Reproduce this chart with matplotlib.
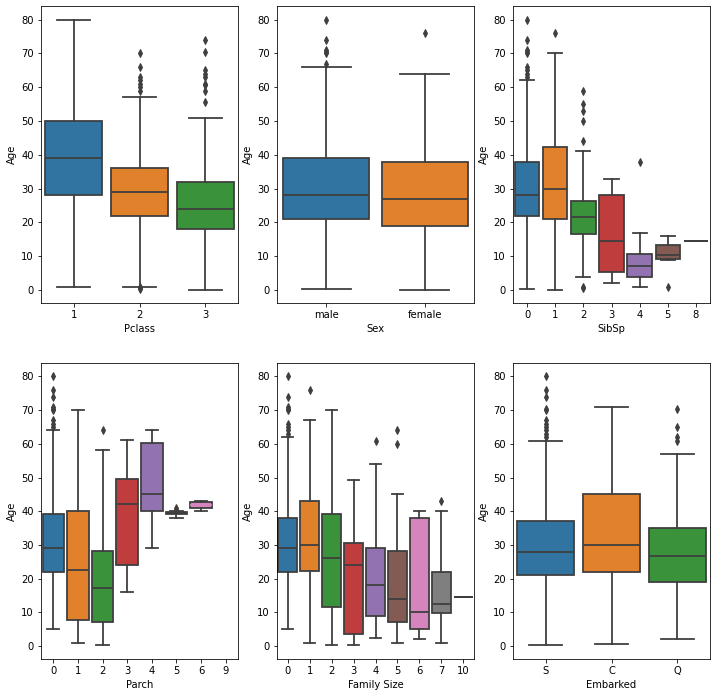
import matplotlib
matplotlib.use("Agg")
import matplotlib.pyplot as plt

# ---------------- data ----------------
pclass_cats = ['1', '2', '3']
pclass_q1 = [28.0, 22.0, 18.0]
pclass_med = [39.0, 29.0, 24.0]
pclass_q3 = [50.0, 36.0, 32.0]
pclass_lo = [0.92, 1.0, 0.17]
pclass_hi = [80.0, 57.0, 51.0]
pclass_fliers = [[],
                 [0.42, 0.67, 0.83, 59, 60, 61, 62, 63, 66, 70],
                 [55.5, 59, 60.5, 61, 63, 64, 65, 70.5, 74]]

sex_cats = ['male', 'female']
sex_q1 = [21.0, 19.0]
sex_med = [28.0, 27.0]
sex_q3 = [39.0, 38.0]
sex_lo = [0.33, 0.17]
sex_hi = [66.0, 64.0]
sex_fliers = [[67, 70, 70.5, 71, 74, 80], [76]]

sibsp_cats = ['0', '1', '2', '3', '4', '5', '8']
sibsp_q1 = [22.0, 21.0, 16.5, 5.4, 4.0, 9.2, 14.5]
sibsp_med = [28.0, 30.0, 21.6, 14.6, 7.2, 10.4, 14.5]
sibsp_q3 = [38.0, 42.2, 26.4, 28.2, 10.7, 13.3, 14.5]
sibsp_lo = [0.33, 0.17, 4.0, 2.0, 1.0, 9.0, 14.5]
sibsp_hi = [62.0, 70.0, 41.0, 33.0, 17.0, 16.0, 14.5]
sibsp_fliers = [[63, 64, 65, 66, 70, 70.5, 71, 74, 80], [76],
                [0.67, 1.0, 44, 50, 53, 55, 59], [], [38], [1.0], []]

parch_cats = ['0', '1', '2', '3', '4', '5', '6', '9']
parch_q1 = [22.0, 7.9, 7.2, 24.1, 40.0, 39.1, 41.0]
parch_med = [29.1, 22.7, 17.4, 42.3, 45.2, 39.4, 42.0]
parch_q3 = [39.3, 40.1, 28.2, 49.6, 60.2, 39.8, 42.8]
parch_lo = [5.0, 0.8, 0.5, 16.2, 29.2, 38.0, 40.0]
parch_hi = [64.0, 70.0, 58.3, 61.2, 64.0, 40.0, 43.0]
parch_fliers = [[65, 66, 67, 70, 70.5, 71, 74, 76, 80], [], [64], [], [],
                [40.5, 41], []]

fam_cats = ['0', '1', '2', '3', '4', '5', '6', '7', '10']
fam_q1 = [22.0, 22.4, 11.5, 3.7, 9.0, 7.1, 5.1, 9.8, 14.5]
fam_med = [29.1, 30.1, 26.2, 24.1, 18.2, 14.1, 10.2, 12.5, 14.5]
fam_q3 = [38.0, 43.0, 39.2, 30.7, 29.1, 28.2, 38.0, 22.1, 14.5]
fam_lo = [5.0, 0.8, 0.5, 0.5, 2.3, 1.0, 2.2, 1.0, 14.5]
fam_hi = [62.0, 67.0, 70.0, 49.4, 54.0, 45.0, 40.0, 40.0, 14.5]
fam_fliers = [[63, 64, 65, 66, 70, 70.5, 71, 74, 80], [76], [], [], [61],
              [60, 64], [], [43], []]

emb_cats = ['S', 'C', 'Q']
emb_q1 = [21.0, 22.0, 19.0]
emb_med = [28.0, 30.0, 26.8]
emb_q3 = [37.0, 45.0, 35.0]
emb_lo = [0.42, 0.75, 2.0]
emb_hi = [61.0, 71.0, 57.0]
emb_fliers = [[62, 63, 64, 65, 66, 67, 70, 70.5, 74, 76, 80], [],
              [61, 62, 65, 70.5]]

# ---------------- styling ----------------
palette = ['#3274a1', '#e1812c', '#3a923a', '#c03d3e', '#9372b2',
           '#845b53', '#d684bd', '#7f7f7f', '#a9aa35', '#2e9ebe']
gray = '#3f3f3f'
LW = 1.8

W, H = 717, 697
fig = plt.figure(figsize=(W / 72, H / 72), dpi=72)

panels = [
    (pclass_cats, pclass_q1, pclass_med, pclass_q3, pclass_lo, pclass_hi, pclass_fliers, 'Pclass'),
    (sex_cats, sex_q1, sex_med, sex_q3, sex_lo, sex_hi, sex_fliers, 'Sex'),
    (sibsp_cats, sibsp_q1, sibsp_med, sibsp_q3, sibsp_lo, sibsp_hi, sibsp_fliers, 'SibSp'),
    (parch_cats, parch_q1, parch_med, parch_q3, parch_lo, parch_hi, parch_fliers, 'Parch'),
    (fam_cats, fam_q1, fam_med, fam_q3, fam_lo, fam_hi, fam_fliers, 'Family Size'),
    (emb_cats, emb_q1, emb_med, emb_q3, emb_lo, emb_hi, emb_fliers, 'Embarked'),
]

lefts = [41, 277, 513]
tops = [6, 363]
bottoms = [303, 659]
aw = 197

for i, (cats, q1, med, q3, lo, hi, fl, xlabel) in enumerate(panels):
    r, c = divmod(i, 3)
    ax = fig.add_axes([lefts[c] / W, 1 - bottoms[r] / H, aw / W,
                       (bottoms[r] - tops[r]) / H])
    stats = []
    for k in range(len(q1)):
        stats.append(dict(med=med[k], q1=q1[k], q3=q3[k], whislo=lo[k],
                          whishi=hi[k], fliers=fl[k]))
    pos = list(range(len(stats)))
    art = ax.bxp(stats, positions=pos, widths=0.87, capwidths=0.5,
                 patch_artist=True, manage_ticks=False,
                 boxprops=dict(edgecolor=gray, linewidth=LW),
                 whiskerprops=dict(color=gray, linewidth=LW),
                 capprops=dict(color=gray, linewidth=LW),
                 medianprops=dict(color=gray, linewidth=LW),
                 flierprops=dict(marker='d', markersize=5,
                                 markerfacecolor=gray, markeredgecolor=gray,
                                 linestyle='none'))
    for k, box in enumerate(art['boxes']):
        box.set_facecolor(palette[k % len(palette)])
        box.set_zorder(2)
    if xlabel == 'Parch':
        art['medians'][6].set_color(palette[6])
    ax.set_xlim(-0.5, len(cats) - 0.5)
    ax.set_xticks(range(len(cats)))
    ax.set_xticklabels(cats)
    ax.set_ylim(-3.8, 84)
    ax.set_yticks(range(0, 81, 10))
    ax.set_xlabel(xlabel, fontsize=10)
    ax.set_ylabel('Age', fontsize=10)
    ax.tick_params(labelsize=10)

fig.savefig('out.png', dpi=72)
